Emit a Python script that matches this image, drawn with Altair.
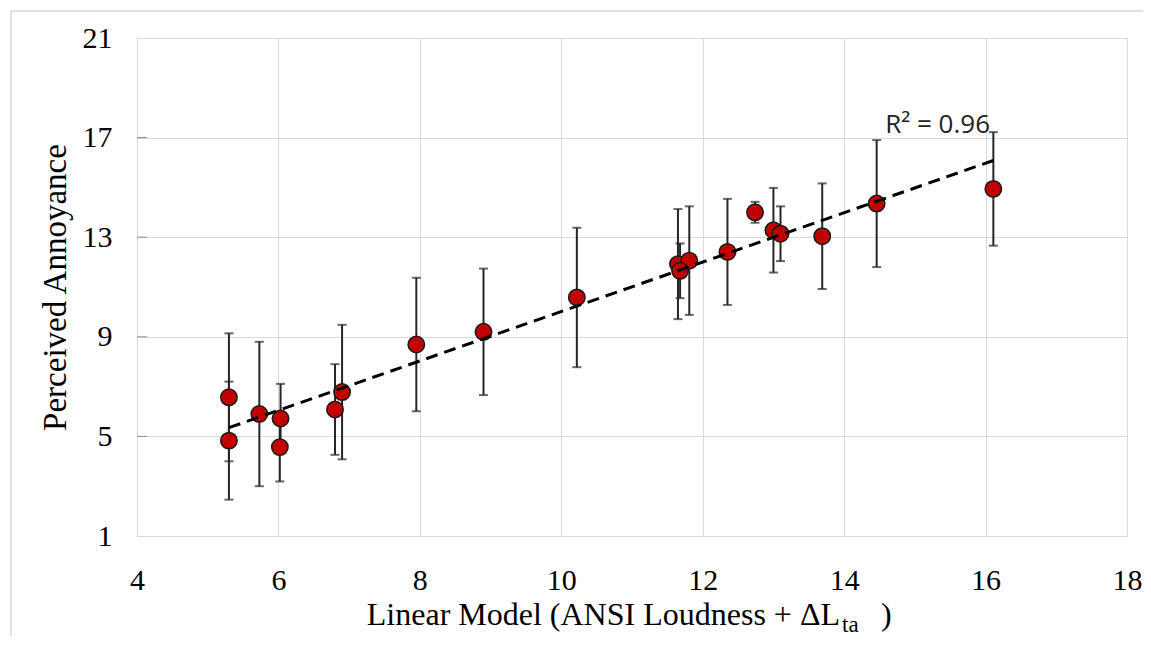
import altair as alt
import pandas as pd

# ---- data ----
model_x = [5.30, 5.30, 5.73, 6.03, 6.02, 6.80, 6.90, 7.95, 8.90, 10.22,
           11.65, 11.81, 11.68, 12.35, 12.74, 13.00, 13.10, 13.69, 14.46, 16.11]
annoyance = [6.57, 4.83, 5.90, 5.72, 4.57, 6.08, 6.78, 8.69, 9.20, 10.58,
             11.92, 12.06, 11.65, 12.41, 14.00, 13.28, 13.14, 13.04, 14.35, 14.94]
err = [2.57, 2.37, 2.90, 1.39, 1.38, 1.82, 2.70, 2.68, 2.54, 2.80,
       2.21, 2.18, 1.10, 2.13, 0.42, 1.70, 1.10, 2.12, 2.55, 2.28]

trend_x = [5.30, 16.11]
trend_y = [5.35, 16.08]

x_ticks = [4, 6, 8, 10, 12, 14, 16, 18]
y_ticks = [1, 5, 9, 13, 17, 21]

r2_label = ["R² = 0.96"]
r2_pos_x = [14.58]
r2_pos_y = [17.2]

xtitle_main = "Linear Model (ANSI Loudness + ΔL"
xtitle_sub = "ta"
xtitle_end = ")"
ytitle = "Perceived Annoyance"

W, H = 990, 498
SERIF = "Liberation Serif"

df = pd.DataFrame({"x": model_x, "y": annoyance, "e": err})
df["lo"] = df["y"] - df["e"]
df["hi"] = df["y"] + df["e"]
trend = pd.DataFrame({"x": trend_x, "y": trend_y})
r2 = pd.DataFrame({"x": r2_pos_x, "y": r2_pos_y, "t": r2_label})
yt = pd.DataFrame({"v": y_ticks[1:-1]})

xscale = alt.Scale(domain=[4, 18], nice=False, zero=False)
yscale = alt.Scale(domain=[1, 21], nice=False, zero=False)

xaxis = alt.Axis(values=x_ticks, format="d", title=None, labelFont=SERIF, labelFontSize=30,
                 labelColor="#000000", labelPadding=29, ticks=False, domain=False,
                 gridColor="#d9d9d9", gridWidth=1, labelFlush=False)
yaxis = alt.Axis(values=y_ticks, format="d", title=ytitle, titleFont=SERIF, titleFontSize=33,
                 titleFontWeight="normal", titleColor="#000000",
                 titleX=-65, titleY=H / 2,
                 labelFont=SERIF, labelFontSize=30, labelColor="#000000",
                 labelPadding=25, ticks=False, domain=False,
                 gridColor="#d9d9d9", gridWidth=1)

base = alt.Chart(df)

bars = base.mark_rule(color="#262626", strokeWidth=2).encode(
    x=alt.X("x:Q", scale=xscale, axis=xaxis),
    y=alt.Y("lo:Q", scale=yscale, axis=yaxis),
    y2="hi:Q",
)
cap_lo = base.mark_tick(color="#262626", thickness=2, size=9, orient="horizontal").encode(
    x=alt.X("x:Q", scale=xscale), y=alt.Y("lo:Q", scale=yscale))
cap_hi = base.mark_tick(color="#262626", thickness=2, size=9, orient="horizontal").encode(
    x=alt.X("x:Q", scale=xscale), y=alt.Y("hi:Q", scale=yscale))

inner_ticks = alt.Chart(yt).mark_rule(color="#8c8c8c", strokeWidth=1).encode(
    x=alt.value(0), x2=alt.value(10), y=alt.Y("v:Q", scale=yscale))

points = base.mark_point(shape="circle", filled=True, size=270, fill="#c00000",
                         stroke="#1a1a1a", strokeWidth=1.5, opacity=1).encode(
    x=alt.X("x:Q", scale=xscale), y=alt.Y("y:Q", scale=yscale))

trendline = alt.Chart(trend).mark_line(color="#000000", strokeWidth=3,
                                       strokeDash=[12, 7]).encode(
    x=alt.X("x:Q", scale=xscale), y=alt.Y("y:Q", scale=yscale))

r2text = alt.Chart(r2).mark_text(font="Open Sans", fontSize=26, color="#222222",
                                 align="left", baseline="alphabetic").encode(
    x=alt.X("x:Q", scale=xscale), y=alt.Y("y:Q", scale=yscale), text="t:N")

one = pd.DataFrame({"t": [0]})
t_main = alt.Chart(one).mark_text(font=SERIF, fontSize=32, color="#000000",
                                  align="right", baseline="alphabetic",
                                  text=xtitle_main).encode(
    x=alt.value(703), y=alt.value(587))
t_sub = alt.Chart(one).mark_text(font=SERIF, fontSize=23, color="#000000",
                                 align="left", baseline="alphabetic",
                                 text=xtitle_sub).encode(
    x=alt.value(705), y=alt.value(594))
t_end = alt.Chart(one).mark_text(font=SERIF, fontSize=32, color="#000000",
                                 align="left", baseline="alphabetic",
                                 text=xtitle_end).encode(
    x=alt.value(744), y=alt.value(587))

frame_top = alt.Chart(one).mark_rule(color="#d9d9d9", strokeWidth=1.5).encode(
    x=alt.value(-126), x2=alt.value(W + 40), y=alt.value(-27))
frame_left = alt.Chart(one).mark_rule(color="#d9d9d9", strokeWidth=1.5).encode(
    x=alt.value(-126), y=alt.value(-27), y2=alt.value(H + 130))

chart = alt.layer(
    bars, cap_lo, cap_hi, inner_ticks, points, trendline, r2text, t_main, t_sub, t_end,
    frame_top, frame_left
).properties(
    width=W, height=H,
    autosize=alt.AutoSizeParams(type="none"),
    padding={"left": 129, "top": 30, "right": 16, "bottom": 100},
).configure_view(
    stroke="#808080", strokeWidth=1.5
).configure(background="#ffffff")

chart.save("out.html", embed_options={"renderer": "svg", "actions": False})
